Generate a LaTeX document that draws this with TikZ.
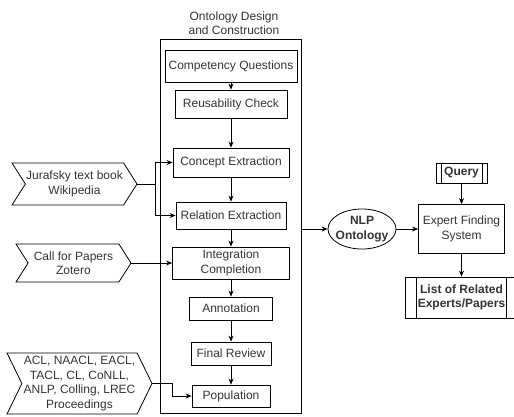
\documentclass[tikz,border=0pt]{standalone}
\usepackage{fontspec}
\setmainfont{Liberation Sans}
\usetikzlibrary{shapes.geometric,shapes.symbols,arrows.meta,calc}
\begin{document}
\begin{tikzpicture}
   [x=1pt,y=-1pt,
   font=\fontsize{12}{14.5}\selectfont,
   every node/.style={text=black!80,align=center},
   arr/.style={-{Stealth[length=6pt,width=5pt]},line width=0.8pt},
   stepbox/.style={draw,line width=0.8pt,inner sep=0pt},
   srcbox/.style={signal,draw,line width=0.8pt,inner sep=0pt,signal to=east,signal from=west,signal pointer angle=115},
   procbox/.style={draw,line width=0.8pt,inner sep=0pt,font=\fontsize{12}{14.5}\selectfont\bfseries,
     path picture={\draw[line width=0.8pt]
       ($(path picture bounding box.north west)!0.1!(path picture bounding box.north east)$) -- ($(path picture bounding box.south west)!0.1!(path picture bounding box.south east)$)
       ($(path picture bounding box.north east)!0.1!(path picture bounding box.north west)$) -- ($(path picture bounding box.south east)!0.1!(path picture bounding box.south west)$);}}]
    \useasboundingbox (0,0) rectangle (514,416);
    \node[stepbox,minimum width=141,minimum height=374] (odc) at (230.5,226) {};
    \node (title) at (234,23) {Ontology Design\\and Construction};
    \node[stepbox,minimum width=132,minimum height=32] (cq) at (231,66) {Competency Questions};
    \node[stepbox,minimum width=112,minimum height=28] (rc) at (231,104) {Reusability Check};
    \node[stepbox,minimum width=116,minimum height=29] (ce) at (231,162.5) {Concept Extraction};
    \node[stepbox,minimum width=110,minimum height=27] (re) at (231,215.5) {Relation Extraction};
    \node[stepbox,minimum width=117,minimum height=32] (ic) at (231,263) {Integration\\Completion};
    \node[stepbox,minimum width=83,minimum height=23] (ann) at (231,308.5) {Annotation};
    \node[stepbox,minimum width=80,minimum height=23] (fr) at (231,353.5) {Final Review};
    \node[stepbox,minimum width=78,minimum height=22] (pop) at (231,396) {Population};
    \node[srcbox,minimum width=125,minimum height=42] (jur) at (74.5,184) {Jurafsky text book\\Wikipedia};
    \node[srcbox,minimum width=115,minimum height=38] (cfp) at (73.5,263) {Call for Papers\\Zotero};
    \node[srcbox,minimum width=145,minimum height=61,signal pointer angle=128] (acl) at (79.5,383.5) {ACL, NAACL, EACL,\\TACL, CL, CoNLL,\\ANLP, Colling, LREC\\Proceedings};
    \node[ellipse,draw,line width=0.8pt,minimum width=68,minimum height=40,inner xsep=-7pt,inner ysep=0pt,font=\fontsize{12}{14.5}\selectfont\bfseries] (onto) at (362,229) {NLP\\Ontology};
    \node[stepbox,minimum width=86,minimum height=49] (efs) at (461.5,229) {Expert Finding\\System};
    \node[procbox,minimum width=51,minimum height=20] (query) at (461.5,173) {Query};
    \node[procbox,minimum width=112,minimum height=41] (lst) at (461.5,297.5) {List of Related\\Experts/Papers};
    \coordinate (jsplit) at ($(jur.east)+(18,0)$);
    \draw[arr] (cq) -- (rc);
    \draw[arr] (rc) -- (ce);
    \draw[arr] (ce) -- (re);
    \draw[arr] (re) -- (ic);
    \draw[arr] (ic) -- (ann);
    \draw[arr] (ann) -- (fr);
    \draw[arr] (fr) -- (pop);
    \draw[line width=0.8pt] (jur.east) -- (jsplit);
    \draw[arr] (jsplit) |- (ce.west);
    \draw[arr] (jsplit) |- (re.west);
    \draw[arr] (cfp.east) -- (ic.west);
    \draw[arr] (acl.east) -- ++(20,0) |- (pop.west);
    \draw[arr] (odc.east |- onto.west) -- (onto.west);
    \draw[arr] (onto) -- (efs);
    \draw[arr] (query) -- (efs);
    \draw[arr] (efs) -- (lst);
\end{tikzpicture}
\end{document}
